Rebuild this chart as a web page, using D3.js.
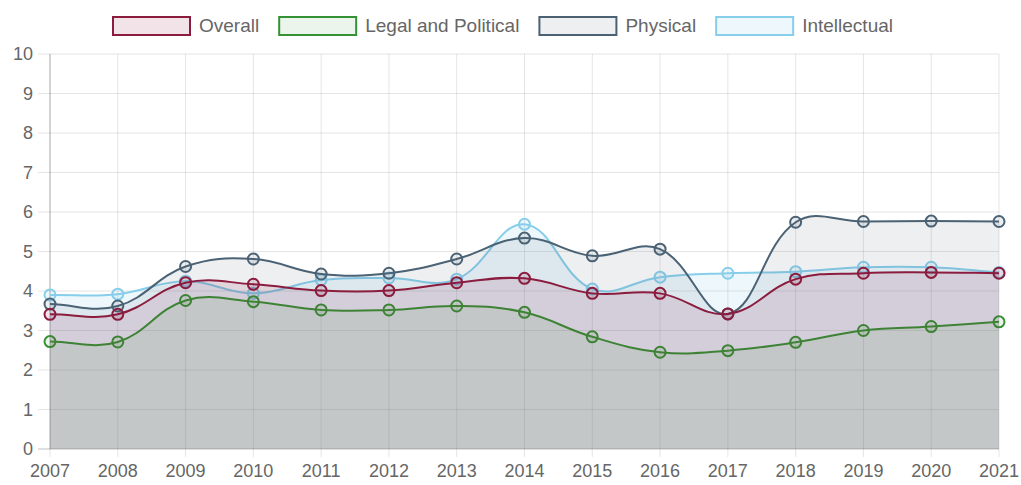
<!DOCTYPE html>
<html>
<head>
<meta charset="utf-8">
<script src="https://cdn.jsdelivr.net/npm/d3@7"></script>
<style>
    body{ margin:0; background:#fff; }
    text{ font-family: "Liberation Sans", Arial, sans-serif; fill:#666; }
</style>
</head>
<body>
<svg id="chart" width="1021" height="485"></svg>
<script>
// data
const years = ['2007','2008','2009','2010','2011','2012','2013','2014','2015','2016','2017','2018','2019','2020','2021'];
const overall      = [3.41,3.41,4.21,4.17,4.01,4.01,4.21,4.32,3.94,3.94,3.42,4.30,4.45,4.47,4.45];
const legal        = [2.72,2.71,3.76,3.73,3.52,3.52,3.62,3.46,2.84,2.45,2.49,2.70,3.00,3.10,3.22];
const physical     = [3.67,3.62,4.62,4.81,4.43,4.45,4.81,5.34,4.89,5.06,3.42,5.74,5.76,5.77,5.76];
const intellectual = [3.90,3.92,4.25,3.94,4.28,4.33,4.30,5.69,4.05,4.35,4.45,4.49,4.60,4.60,4.47];
const yTicks = [0,1,2,3,4,5,6,7,8,9,10];

const series = [
    {name:'Overall', values: overall, line:'rgb(139,28,62)', fill:'rgba(139,28,62,0.12)'},
    {name:'Legal and Political', values: legal, line:'rgb(52,145,52)', fill:'rgba(60,160,60,0.1)'},
    {name:'Physical', values: physical, line:'rgb(74,98,116)', fill:'rgba(74,98,116,0.1)'},
    {name:'Intellectual', values: intellectual, line:'rgb(135,206,235)', fill:'rgba(135,206,235,0.14)'}
];

const margin = {l:50, r:22, t:54, b:36};
const W = 1021, H = 485;
const svg = d3.select('#chart');

const x = d3.scalePoint().domain(years).range([margin.l, W - margin.r]);
const y = d3.scaleLinear().domain([0,10]).range([H - margin.b, margin.t]);

//--------GRID & AXES--------
const grid = svg.append('g');
grid.selectAll('line.v').data(years).join('line')
    .attr('x1', d => x(d)).attr('x2', d => x(d))
    .attr('y1', y(10)).attr('y2', y(0) + 8)
    .attr('stroke', 'rgba(0,0,0,0.1)');
grid.selectAll('line.h').data(yTicks).join('line')
    .attr('x1', margin.l - 12).attr('x2', W - margin.r)
    .attr('y1', d => y(d)).attr('y2', d => y(d))
    .attr('stroke', d => d == 0 ? 'rgba(0,0,0,0.25)' : 'rgba(0,0,0,0.1)');
grid.append('line')
    .attr('x1', margin.l).attr('x2', margin.l)
    .attr('y1', y(10)).attr('y2', y(0))
    .attr('stroke', 'rgba(0,0,0,0.25)');

svg.selectAll('text.ytick').data(yTicks).join('text')
    .attr('class', 'ytick')
    .attr('x', margin.l - 17)
    .attr('y', d => y(d) + 6)
    .attr('text-anchor', 'end')
    .style('font-size', '18px')
    .text(d => d);

svg.selectAll('text.xtick').data(years).join('text')
    .attr('class', 'xtick')
    .attr('x', d => x(d))
    .attr('y', H - 8)
    .attr('text-anchor', 'middle')
    .style('font-size', '18px')
    .text(d => d);

//--------SPLINE (chart.js style, tension 0.4)--------
function controlPoints(pts, t){
    return pts.map((p, i) => {
        const prev = pts[i-1] || p, next = pts[i+1] || p;
        const d01 = Math.hypot(p[0]-prev[0], p[1]-prev[1]);
        const d12 = Math.hypot(next[0]-p[0], next[1]-p[1]);
        let s01 = d01 / (d01 + d12), s12 = d12 / (d01 + d12);
        if(isNaN(s01)) s01 = 0;
        if(isNaN(s12)) s12 = 0;
        const fa = t * s01, fb = t * s12;
        return {
            prev: [p[0] - fa*(next[0]-prev[0]), p[1] - fa*(next[1]-prev[1])],
            next: [p[0] + fb*(next[0]-prev[0]), p[1] + fb*(next[1]-prev[1])]
        };
    });
}

function splinePath(pts, path){
    const cps = controlPoints(pts, 0.4);
    path.moveTo(pts[0][0], pts[0][1]);
    for(let i = 1; i < pts.length; i++){
        const a = cps[i-1].next, b = cps[i].prev;
        path.bezierCurveTo(a[0], a[1], b[0], b[1], pts[i][0], pts[i][1]);
    }
    return path;
}

//--------SERIES (drawn last to first)--------
series.slice().reverse().forEach(s => {
    const pts = s.values.map((v, i) => [x(years[i]), y(v)]);
    const g = svg.append('g');

    const area = splinePath(pts, d3.path());
    area.lineTo(pts[pts.length-1][0], y(0));
    area.lineTo(pts[0][0], y(0));
    area.closePath();
    g.append('path').attr('d', area.toString()).attr('fill', s.fill);

    g.append('path')
        .attr('d', splinePath(pts, d3.path()).toString())
        .attr('fill', 'none')
        .attr('stroke', s.line)
        .attr('stroke-width', 2);

    g.selectAll('circle').data(pts).join('circle')
        .attr('cx', d => d[0]).attr('cy', d => d[1])
        .attr('r', 5.5)
        .attr('fill', s.fill)
        .attr('stroke', s.line)
        .attr('stroke-width', 2);
});

//--------LEGEND--------
const legend = svg.append('g');
const boxW = 77, boxH = 18, gapText = 9, gapItem = 20;
const items = legend.selectAll('g').data(series).join('g');
items.append('rect')
    .attr('width', boxW).attr('height', boxH)
    .attr('fill', d => d.fill)
    .attr('stroke', d => d.line)
    .attr('stroke-width', 2);
items.append('text')
    .attr('x', boxW + gapText)
    .attr('y', boxH/2 + 6)
    .style('font-size', '19px')
    .text(d => d.name);

let offset = 0;
items.each(function(){
    const w = this.getBBox().width;
    d3.select(this).attr('transform', `translate(${offset},17)`);
    offset += w + gapItem;
});
const total = offset - gapItem;
legend.attr('transform', `translate(${503 - total/2},0)`);
</script>
</body>
</html>
